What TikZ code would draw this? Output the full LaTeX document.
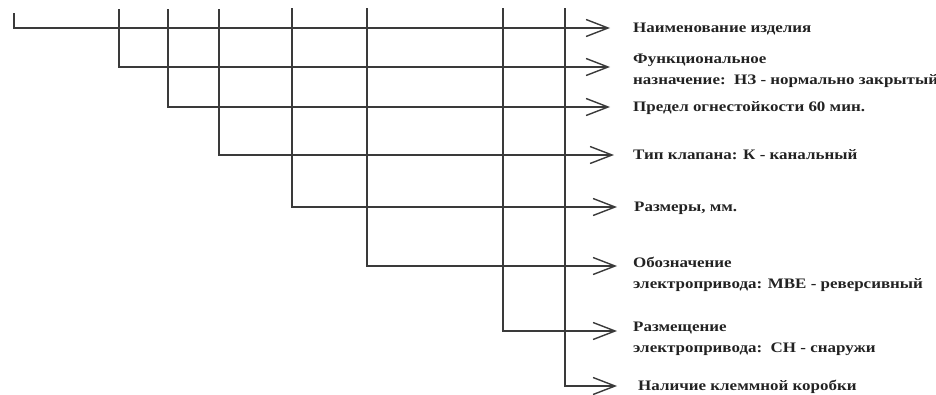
\documentclass[tikz,border=0pt]{standalone}
\usepackage{fontspec}
\setmainfont{Liberation Serif}
\newfontfamily\lblfont{Liberation Serif}[FakeStretch=1.17]
\usetikzlibrary{arrows.meta}
\definecolor{ln}{HTML}{3A3A3A}
\definecolor{tx}{HTML}{222222}
\begin{document}
\begin{tikzpicture}[x=1pt,y=-1pt,
  conn/.style={draw=ln, line width=1.4pt, -{Straight Barb[length=22pt,width=17pt,line width=1.4pt]}},
  lbl/.style={anchor=base west, inner sep=0pt, font=\lblfont\fontsize{14.5}{21}\selectfont\bfseries, text=tx, align=left}]
\useasboundingbox (0,0) rectangle (936,394);
% tops of the verticals
\coordinate (s1) at (14,13);
\coordinate (s2) at (119,9);
\coordinate (s3) at (168,9);
\coordinate (s4) at (219,9);
\coordinate (s5) at (292,8);
\coordinate (s6) at (367,8);
\coordinate (s7) at (503,8);
\coordinate (s8) at (565,8);
% arrow tips
\coordinate (e1) at (610,28);
\coordinate (e2) at (610,67);
\coordinate (e3) at (610,107);
\coordinate (e4) at (614,155);
\coordinate (e5) at (617,207);
\coordinate (e6) at (617,266);
\coordinate (e7) at (617,331);
\coordinate (e8) at (617,386);
% labels (base = baseline of the last line)
\node[lbl] (t1) at (633,32) {Наименование изделия};
\node[lbl] (t2) at (633,84) {Функциональное\\назначение:\ \ НЗ - нормально закрытый};
\node[lbl] (t3) at (633,111) {Предел огнестойкости 60 мин.};
\node[lbl] (t4) at (633,159) {Тип клапана: К - канальный};
\node[lbl] (t5) at (634,211) {Размеры, мм.};
\node[lbl] (t6) at (633,288) {Обозначение\\электропривода: МВЕ - реверсивный};
\node[lbl] (t7) at (633,352) {Размещение\\электропривода:\ \ СН - снаружи};
\node[lbl] (t8) at (638,390) {Наличие клеммной коробки};
% connectors
\foreach \i in {1,...,8}{
  \draw[conn] (s\i) |- (e\i);
}
\end{tikzpicture}
\end{document}
